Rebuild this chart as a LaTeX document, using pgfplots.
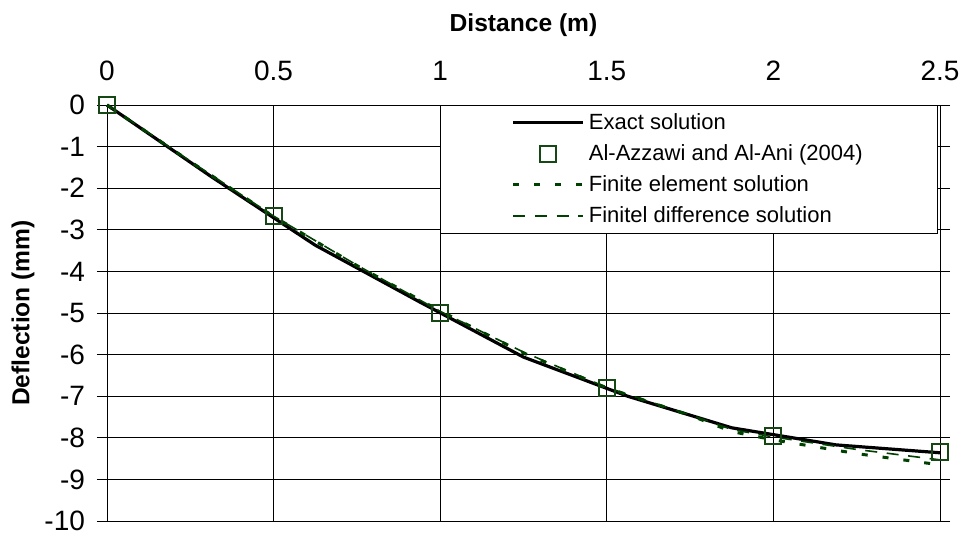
\documentclass[border=0pt]{standalone}
\usepackage{pgfplots}
\pgfplotsset{compat=1.18}
\usepackage{fontspec}
\setmainfont{Liberation Sans}
\definecolor{dgreen}{RGB}{22,72,22}
\definecolor{fgreen}{RGB}{0,64,0}
\pgfplotsset{lineleg/.style={legend image code/.code={\draw[##1] (0pt,0pt) -- (35pt,0pt);}},
  markleg/.style={legend image code/.code={\draw[mark repeat=2,mark phase=2,##1] plot coordinates {(0pt,0pt) (17.5pt,0pt) (35pt,0pt)};}}}
\begin{document}
\begin{tikzpicture}
\begin{axis}[
  scale only axis,
  width=416.5pt, height=208pt,
  xmin=0, xmax=2.5, ymin=-10, ymax=0,
  xtick={0,0.5,1,1.5,2,2.5},
  ytick={-10,-9,...,0},
  xticklabels={0,0.5,1,1.5,2,2.5},
  xticklabel pos=upper,
  xtick style={draw=none},
  tick align=outside,
  major tick length=5pt,
  ytick style={line width=0.5pt, black},
  grid=major,
  grid style={line width=0.5pt, black},
  axis line style={line width=0.5pt, black},
  /pgf/number format/assume math mode=true,
  ticklabel style={font=\fontsize{14}{16}\selectfont},
  xticklabel style={yshift=3.5pt},
  yticklabel style={xshift=-2.5pt},
  clip=false,
  legend style={at={(axis cs:1,0)}, anchor=north west,
    draw=black, line width=0.5pt, fill=white,
    font=\fontsize{11}{13}\selectfont,
    inner xsep=35.5pt, inner ysep=1.8pt, row sep=2.1pt,
    legend cell align=left},
]
\addplot[black, line width=1.6pt, lineleg]
  coordinates {(0,0) (0.3125,-1.72) (0.625,-3.37) (0.9375,-4.73) (1.25,-6.06)
  (1.5625,-7.0) (1.875,-7.76) (2.1875,-8.17) (2.5,-8.36)};
\addlegendentry{Exact solution}
\addplot[only marks, mark=square, mark size=4pt, dgreen, mark options={line width=1pt}, markleg]
  coordinates {(0,0) (0.5,-2.68) (1,-5.0) (1.5,-6.8) (2,-7.95) (2.5,-8.35)};
\addlegendentry{Al-Azzawi and Al-Ani (2004)}
\addplot[fgreen, line width=1.5pt, dash pattern=on 3pt off 7.5pt, lineleg]
  coordinates {(0,0) (0.25,-1.36) (0.5,-2.68) (0.75,-3.86) (1,-4.95) (1.25,-5.96)
  (1.5,-6.8) (1.75,-7.46) (1.875,-7.85) (2,-8.05) (2.25,-8.38) (2.5,-8.65)};
\addlegendentry{Finite element solution}
\addplot[fgreen, line width=0.8pt, dash pattern=on 6pt off 4.8pt, lineleg]
  coordinates {(0,0) (0.25,-1.35) (0.5,-2.67) (0.75,-3.85) (1,-4.96) (1.25,-5.94)
  (1.5,-6.79) (1.75,-7.45) (1.875,-7.8) (2,-7.98) (2.25,-8.28) (2.5,-8.53)};
\addlegendentry{Finitel difference solution}
\end{axis}
\node[font=\bfseries\fontsize{12.3}{14}\selectfont] at ([yshift=40pt]current axis.north) {Distance (m)};
\node[rotate=90, font=\bfseries\fontsize{12.3}{14}\selectfont] at ([xshift=-42pt]current axis.west) {Deflection (mm)};
\pgfresetboundingbox
\path ([xshift=-53.5pt,yshift=-8pt]current axis.south west) rectangle ([xshift=10.5pt,yshift=52.5pt]current axis.north east);
\end{tikzpicture}
\end{document}
